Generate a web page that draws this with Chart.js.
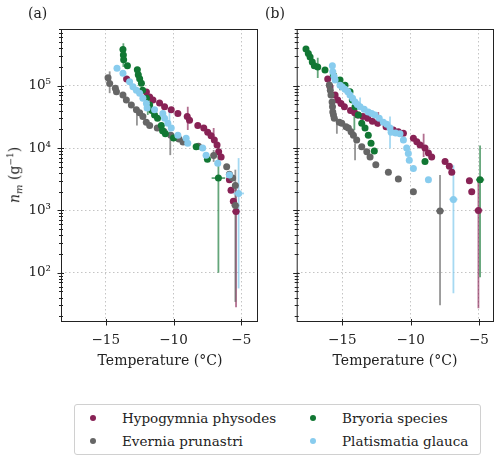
<!DOCTYPE html>
<html>
<head>
<meta charset="utf-8">
<script src="https://cdn.jsdelivr.net/npm/chart.js@4/dist/chart.umd.min.js"></script>
<style>
  body { margin: 0; width: 500px; height: 462px; background: #fff; position: relative; overflow: hidden;
         font-family: "DejaVu Serif", serif; color: #222; }
  canvas { position: absolute; top: 0; }
  .txt { position: absolute; font-size: 14px; white-space: nowrap; font-weight: normal; }
  .xtitle { top: 352px; transform: translateX(-50%); }
  .ytitle { left: 15px; top: 175px; transform: translate(-50%, -50%) rotate(-90deg); }
  .panel { top: 5px; font-size: 14px; }
  #legend { position: absolute; left: 74px; top: 404px; width: 407px; height: 51px; box-sizing: border-box;
            border: 1px solid #d0d0d0; border-radius: 3px; font-size: 13.5px; }
  .item { position: absolute; white-space: nowrap; line-height: 16px; }
  .dot { position: absolute; width: 6px; height: 6px; border-radius: 50%; }
</style>
</head>
<body>
<canvas id="chartA" width="262" height="385" style="left:0"></canvas>
<canvas id="chartB" width="238" height="385" style="left:262px"></canvas>

<div class="txt panel" style="left:28px">(a)</div>
<div class="txt panel" style="left:265px">(b)</div>
<div class="txt xtitle" style="left:160px">Temperature (°C)</div>
<div class="txt xtitle" style="left:395px">Temperature (°C)</div>
<div class="txt ytitle"><i style="font-weight:normal">n</i><sub style="font-size:10px"><i>m</i></sub> (g<sup style="font-size:9px">−1</sup>)</div>

<div id="legend"></div>

<script>
// axis ticks
const xTicks = [-15, -10, -5];
const yDecades = [2, 3, 4, 5];

const names = ['Hypogymnia physodes', 'Evernia prunastri', 'Bryoria species', 'Platismatia glauca'];
const colors = ['#882255', '#666666', '#117733', '#88CCEE'];
const errColors = ['rgba(136,34,85,0.65)', 'rgba(102,102,102,0.7)', 'rgba(17,119,51,0.65)', 'rgba(136,204,238,0.75)'];

// panel (a): [temperature, n_m]
const aHypo = [[-13.46,1.28e5],[-12.0,7.9e4],[-11.76,6.6e4],[-11.52,5.9e4],[-11.03,5.3e4],[-10.66,4.6e4],[-10.17,4.1e4],
  [-9.68,3.6e4],[-8.99,3.2e4],[-8.82,2.8e4],[-8.21,2.3e4],[-7.77,2.1e4],[-7.48,1.8e4],[-7.23,1.58e4],[-6.99,1.35e4],
  [-6.79,1.12e4],[-6.67,8.7e3],[-6.49,7.2e3],[-5.88,3.1e3],[-5.76,2.1e3],[-5.59,1.4e3],[-5.39,960]];
const aEver = [[-14.83,1.34e5],[-14.71,1.09e5],[-14.29,9.1e4],[-14.21,8.0e4],[-13.73,7.1e4],[-13.48,5.9e4],[-13.11,4.9e4],
  [-12.74,4.1e4],[-12.5,3.7e4],[-12.26,3.2e4],[-12.01,2.6e4],[-11.76,2.3e4],[-11.2,2.1e4],[-10.7,1.85e4],[-10.2,1.6e4],
  [-9.6,1.4e4],[-9.3,1.25e4],[-8.16,1.07e4],[-7.04,7.6e3],[-6.08,5.0e3],[-5.88,3.8e3],[-5.64,3.3e3],[-5.44,2.5e3],[-5.44,1.2e3]];
const aBry = [[-13.73,3.8e5],[-13.70,3.1e5],[-13.68,2.6e5],[-13.4,2.1e5],[-12.67,1.8e5],[-12.6,1.5e5],[-12.5,1.3e5],
  [-12.37,1.1e5],[-12.28,8.5e4],[-12.0,6.3e4],[-11.76,4.9e4],[-11.6,4.0e4],[-11.4,3.4e4],[-11.18,3.0e4],[-10.9,2.3e4],
  [-10.81,1.9e4],[-10.6,1.7e4],[-10.0,1.45e4],[-8.33,1.05e4],[-7.5,6.6e3],[-6.69,3.3e3]];
const aPlat = [[-14.17,1.9e5],[-13.73,1.58e5],[-13.24,1.16e5],[-12.99,9.6e4],[-12.74,8.5e4],[-12.5,7.6e4],[-12.26,6.3e4],
  [-12.0,5.2e4],[-11.95,4.4e4],[-11.4,4.1e4],[-10.79,3.6e4],[-10.66,3.0e4],[-10.42,2.5e4],[-10.17,2.1e4],[-9.68,1.6e4],
  [-9.07,1.44e4],[-8.95,1.2e4],[-7.85,1.0e4],[-7.6,7.7e3],[-6.74,5.7e3],[-5.88,3.7e3],[-5.2,1.87e3]];

// panel (b)
const bHypo = [[-16.07,1.28e5],[-15.9,9.6e4],[-15.53,7.1e4],[-15.34,5.9e4],[-15.1,5.2e4],[-14.85,4.6e4],[-14.4,4.0e4],
  [-14.1,3.7e4],[-13.87,3.4e4],[-13.5,3.2e4],[-13.14,3.0e4],[-12.8,2.7e4],[-12.41,2.5e4],[-11.8,2.2e4],[-11.27,1.95e4],
  [-10.9,1.82e4],[-10.53,1.73e4],[-9.8,1.44e4],[-9.55,1.26e4],[-9.31,1.12e4],[-8.95,1.0e4],[-8.7,8.3e3],[-8.46,7.2e3],
  [-7.48,6.1e3],[-7.17,5.1e3],[-6.99,4.1e3],[-5.7,3.0e3],[-5.53,2.0e3],[-5.04,1.0e3]];
const bEver = [[-15.95,1.03e5],[-15.88,8.5e4],[-15.83,7.1e4],[-15.75,5.5e4],[-15.72,4.6e4],[-15.7,3.8e4],[-15.65,3.4e4],
  [-15.59,3.0e4],[-15.22,2.6e4],[-15.04,2.5e4],[-14.73,2.2e4],[-14.56,2.1e4],[-14.36,1.83e4],[-14.19,1.6e4],[-13.95,1.35e4],
  [-13.58,1.05e4],[-13.21,8.7e3],[-12.97,7.2e3],[-12.55,5.4e3],[-11.63,4.1e3],[-10.9,3.2e3],[-9.8,2.0e3],[-7.85,980]];
const bBry = [[-17.66,3.9e5],[-17.49,3.3e5],[-17.36,2.9e5],[-17.2,2.4e5],[-17.05,2.1e5],[-16.8,2.0e5],[-16.27,1.78e5],
  [-15.66,1.48e5],[-15.17,1.23e5],[-14.8,1.02e5],[-14.44,8.0e4],[-14.27,5.9e4],[-14.07,4.6e4],[-13.83,3.4e4],[-13.58,2.5e4],
  [-13.34,2.1e4],[-13.1,1.6e4],[-12.9,1.2e4],[-12.66,9.0e3],[-8.95,6.1e3],[-4.92,3.1e3]];
const bPlat = [[-15.73,2.1e5],[-15.7,1.67e5],[-15.6,1.4e5],[-15.53,1.23e5],[-15.17,1.02e5],[-15.0,9.5e4],[-14.8,8.8e4],
  [-14.6,8.0e4],[-14.44,7.1e4],[-14.25,6.3e4],[-14.07,5.5e4],[-13.9,5.0e4],[-13.7,4.6e4],[-13.4,4.2e4],[-13.1,3.8e4],
  [-12.85,3.6e4],[-12.61,3.4e4],[-12.3,3.0e4],[-12.0,2.6e4],[-11.75,2.4e4],[-11.51,2.1e4],[-11.43,1.8e4],[-11.1,1.75e4],
  [-10.78,1.7e4],[-10.53,1.35e4],[-10.29,1.0e4],[-10.17,8.2e3],[-10.1,6.4e3],[-9.8,4.7e3],[-8.7,3.1e3],[-6.87,1.5e3]];

// error bars: [temperature, n_m, low, high, half width in T]
const aHypoErr = [[-8.95,3.2e4,1.95e4,4.6e4,0],[-7.04,1.35e4,1.2e4,2.1e4,0],[-5.39,960,28,2200,0.3]];
const aEverErr = [[-14.71,1.09e5,7.6e4,1.7e5,0],[-12.7,3.2e4,2.3e4,4.1e4,0],[-10.24,1.6e4,7.7e3,1.8e4,0],
  [-7.04,7.6e3,6.0e3,9.3e3,0],[-5.44,1.2e3,34,4.5e3,0.3]];
const aBryErr = [[-13.7,3.1e5,2.0e5,4.8e5,0],[-11.9,4.5e4,3.4e4,5.9e4,0],[-6.69,3.3e3,100,1.2e4,0.5]];
const aPlatErr = [[-10.3,2.3e4,1.5e4,4.1e4,0],[-5.2,1.87e3,56,6.9e3,0.4]];
const bHypoErr = [[-12.37,2.5e4,2.2e4,3.8e4,0],[-9.05,1.0e4,7.2e3,1.7e4,0],[-5.04,1.0e3,27,3.5e3,0.3]];
const bEverErr = [[-15.4,2.5e4,1.7e4,3.0e4,0],[-14.07,9e3,6.4e3,1.2e4,0],[-7.85,980,30,3.7e3,0.3]];
const bBryErr = [[-16.8,2.0e5,1.33e5,2.8e5,0],[-15.17,1.1e5,8.5e4,1.33e5,0],[-14.12,3.5e4,1.95e4,4.6e4,0],[-4.92,3.1e3,85,1.1e4,0.3]];
const bPlatErr = [[-13.7,5e4,4.1e4,6.5e4,0],[-11.51,2.1e4,9.9e3,3.2e4,0],[-6.87,1.5e3,47,5.3e3,0.3]];

const FONT = '"DejaVu Serif", serif';

const panelPlugin = {
  id: 'panelPlugin',
  beforeDatasetsDraw(chart, args, opts) {
    const ctx = chart.ctx, xs = chart.scales.x, ys = chart.scales.y, a = chart.chartArea;
    ctx.save();
    ctx.beginPath();
    ctx.rect(a.left, a.top, a.right - a.left, a.bottom - a.top);
    ctx.clip();
    ctx.lineWidth = 1.8;
    opts.errors.forEach((bars, i) => {
      ctx.strokeStyle = errColors[i];
      bars.forEach(([t, n, lo, hi, dt]) => {
        const x = xs.getPixelForValue(t);
        ctx.beginPath();
        ctx.moveTo(x, ys.getPixelForValue(lo));
        ctx.lineTo(x, ys.getPixelForValue(hi));
        ctx.stroke();
        if (dt) {
          const y = ys.getPixelForValue(n);
          ctx.beginPath();
          ctx.moveTo(xs.getPixelForValue(t - dt), y);
          ctx.lineTo(xs.getPixelForValue(t + dt), y);
          ctx.stroke();
        }
      });
    });
    ctx.restore();
  },
  afterDraw(chart) {
    const ctx = chart.ctx, xs = chart.scales.x, ys = chart.scales.y, a = chart.chartArea;
    ctx.save();
    ctx.strokeStyle = '#222';
    ctx.lineWidth = 1;
    ctx.strokeRect(a.left + 0.5, a.top + 0.5, a.right - a.left - 1, a.bottom - a.top - 1);
    ctx.beginPath();
    ys.ticks.forEach(tk => {
      const y = Math.round(ys.getPixelForValue(tk.value)) + 0.5;
      const out = tk.major ? 3.5 : 2, inn = tk.major ? 3 : 2;
      ctx.moveTo(a.left - out, y);
      ctx.lineTo(a.left + inn, y);
    });
    xs.ticks.forEach(tk => {
      const x = Math.round(xs.getPixelForValue(tk.value)) + 0.5;
      ctx.moveTo(x, a.bottom + 3.5);
      ctx.lineTo(x, a.bottom - 3);
    });
    ctx.stroke();
    ctx.restore();
  }
};

const sup = { 2: '²', 3: '³', 4: '⁴', 5: '⁵' };

function makePanel(id, series, errors, xMin, xMax, yWidth, padRight, showYLabels) {
  const order = [3, 2, 1, 0];
  return new Chart(document.getElementById(id), {
    type: 'scatter',
    data: {
      datasets: series.map((s, i) => ({
        label: names[i],
        data: s.map(p => ({ x: p[0], y: p[1] })),
        backgroundColor: colors[i],
        borderWidth: 0,
        pointRadius: 3.5,
        order: order[i]
      }))
    },
    options: {
      responsive: false,
      animation: false,
      layout: { padding: { left: 0, right: padRight, top: 29, bottom: 0 } },
      plugins: { legend: { display: false }, tooltip: { enabled: false }, panelPlugin: { errors } },
      scales: {
        x: {
          type: 'linear', min: xMin, max: xMax,
          afterBuildTicks: s => { s.ticks = xTicks.map(v => ({ value: v })); },
          afterFit: s => { s.height = 63; },
          ticks: { callback: v => '−' + Math.abs(v), color: '#222', font: { family: FONT, size: 13.5 }, padding: 10, autoSkip: false, maxRotation: 0 },
          grid: { color: '#c4c4c4', lineWidth: 1, drawTicks: false },
          border: { display: false, dash: [1.5, 2.5] }
        },
        y: {
          type: 'logarithmic', min: 16.2, max: 8.13e5,
          afterBuildTicks: s => {
            const t = [];
            for (let e = 1; e <= 5; e++) {
              for (let m = 1; m <= 9; m++) {
                const v = m * Math.pow(10, e);
                if (v >= s.min && v <= s.max) t.push({ value: v, major: m === 1 && yDecades.includes(e) });
              }
            }
            s.ticks = t;
          },
          afterFit: s => { s.width = yWidth; },
          ticks: {
            display: showYLabels, autoSkip: false, padding: 10, color: '#222',
            font: { family: FONT, size: 13.5 },
            callback: (v, i, tks) => tks[i].major ? '10' + sup[Math.round(Math.log10(v))] : ''
          },
          grid: { color: c => (c.tick && c.tick.major) ? '#c4c4c4' : 'rgba(0,0,0,0)', lineWidth: 1, drawTicks: false },
          border: { display: false, dash: [1.5, 2.5] }
        }
      }
    },
    plugins: [panelPlugin]
  });
}

makePanel('chartA', [aHypo, aEver, aBry, aPlat], [aHypoErr, aEverErr, aBryErr, aPlatErr], -18.3, -3.77, 61, 3.3, true);
makePanel('chartB', [bHypo, bEver, bBry, bPlat], [bHypoErr, bEverErr, bBryErr, bPlatErr], -18.34, -3.9, 34.7, 6, false);

// legend, two columns: dot centre x, text x, row y (relative to the box)
const legendDotX = [18, 18, 238, 238];
const legendTextX = [47, 47, 267, 267];
const legendRowY = [13, 36, 13, 36];
const legend = document.getElementById('legend');
names.forEach((n, i) => {
  const d = document.createElement('div');
  d.className = 'dot';
  d.style.background = colors[i];
  d.style.left = (legendDotX[i] - 3) + 'px';
  d.style.top = (legendRowY[i] - 3) + 'px';
  legend.appendChild(d);
  const t = document.createElement('div');
  t.className = 'item';
  t.textContent = n;
  t.style.left = legendTextX[i] + 'px';
  t.style.top = (legendRowY[i] - 8) + 'px';
  legend.appendChild(t);
});
</script>
</body>
</html>
